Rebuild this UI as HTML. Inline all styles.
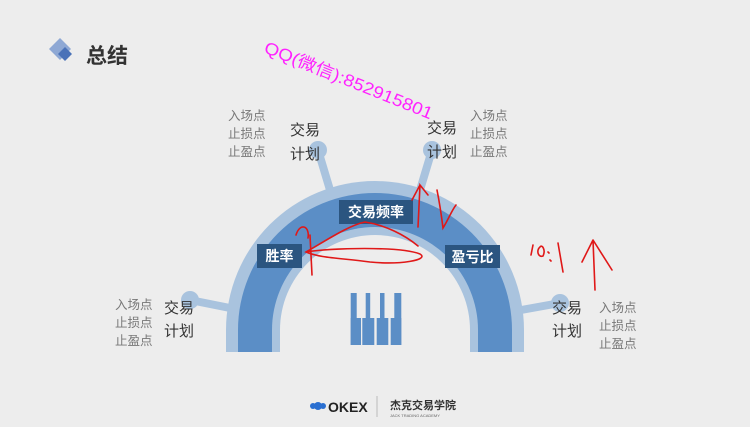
<!DOCTYPE html>
<html><head><meta charset="utf-8"><style>
body{margin:0;width:750px;height:422px;overflow:hidden;background:#ededed;font-family:"Liberation Sans","Noto Sans CJK SC",sans-serif}
</style></head><body>
<svg width="750" height="422" viewBox="0 0 750 422" xmlns="http://www.w3.org/2000/svg" font-family="Liberation Sans, Noto Sans CJK SC, sans-serif">
<rect width="750" height="422" fill="#ededed"/>
<!-- title icon -->
<polygon points="60,38 71,49 60,60 49,49" fill="#8ea8d4"/>
<polygon points="66,44 73,51 66,58 59,51" fill="#4a72b8" transform="translate(-1,3) scale(1)"/>
<text x="86" y="63" font-size="21" font-weight="bold" fill="#333">总结</text>
<!-- spokes -->
<g stroke="#a9c3de" stroke-width="8" fill="none">
<line x1="190" y1="300" x2="240" y2="310"/>
<line x1="318" y1="150" x2="330" y2="190"/>
<line x1="432" y1="150" x2="420" y2="190"/>
<line x1="560" y1="303" x2="510" y2="312"/>
</g>
<g fill="#a9c3de">
<circle cx="190" cy="300" r="9"/><circle cx="318" cy="150" r="9"/>
<circle cx="432" cy="150" r="9"/><circle cx="560" cy="303" r="9"/>
</g>
<!-- arch -->
<path d="M226,352 L226,330 A149,149 0 0 1 524,330 L524,352 Z" fill="#a9c3de"/>
<path d="M238,352 L238,330 A137,137 0 0 1 512,330 L512,352 Z" fill="#5b8ec6"/>
<path d="M272,352 L272,330 A103,103 0 0 1 478,330 L478,352 Z" fill="#a9c3de"/>
<path d="M280,353 L280,330 A95,95 0 0 1 470,330 L470,353 Z" fill="#ededed"/>
<!-- piano -->
<g fill="#5b8ec6">
<rect x="350.7" y="293" width="6" height="52"/><rect x="365.7" y="293" width="4.5" height="52"/>
<rect x="380" y="293" width="4.5" height="52"/><rect x="394.3" y="293" width="7" height="52"/>
<rect x="350.7" y="318" width="10.3" height="27"/><rect x="362.3" y="318" width="12" height="27"/>
<rect x="376.7" y="318" width="11.6" height="27"/><rect x="390.7" y="318" width="10.6" height="27"/>
</g>
<!-- label boxes -->
<g fill="#2b5580">
<rect x="257" y="244" width="45" height="24"/>
<rect x="339" y="200" width="74" height="24"/>
<rect x="445" y="245" width="55" height="23"/>
</g>
<g fill="#fff" font-size="14" font-weight="bold" text-anchor="middle">
<text x="279.5" y="261">胜率</text><text x="376" y="217">交易频率</text><text x="472.5" y="262">盈亏比</text>
</g>
<!-- side texts -->
<g font-size="15" fill="#333">
<text x="290" y="135">交易</text><text x="290" y="159">计划</text>
<text x="427" y="133">交易</text><text x="427" y="157">计划</text>
<text x="164" y="313">交易</text><text x="164" y="336">计划</text>
<text x="552" y="313">交易</text><text x="552" y="336">计划</text>
</g>
<g font-size="12.5" fill="#777">
<text x="228" y="120">入场点</text><text x="228" y="138">止损点</text><text x="228" y="156">止盈点</text>
<text x="470" y="120">入场点</text><text x="470" y="138">止损点</text><text x="470" y="156">止盈点</text>
<text x="115" y="309">入场点</text><text x="115" y="327">止损点</text><text x="115" y="345">止盈点</text>
<text x="599" y="312">入场点</text><text x="599" y="330">止损点</text><text x="599" y="348">止盈点</text>
</g>
<!-- watermark -->
<text x="263" y="52" font-size="17" fill="#ff22ff" textLength="180" lengthAdjust="spacingAndGlyphs" transform="rotate(22 263 52)">QQ(微信):852915801</text>
<!-- red annotations -->
<g stroke="#e01818" stroke-width="1.6" fill="none" stroke-linecap="round">
<path d="M312,275 L310,235 M296,235 C300,222 310,226 308,238"/>
<path d="M306,252 C330,248 400,246 420,254 C430,260 400,265 370,262 C340,258 320,258 306,252 C330,238 350,225 365,222 C385,225 405,235 418,246"/>
<path d="M418,227 L420,185 L428,195 M420,185 L412,200"/>
<path d="M437,190 C440,205 442,220 443,228 C448,220 452,210 456,205"/>
<path d="M531,255 L533,245 M540,247 C536,250 538,258 543,256 C546,250 542,244 540,247 M548,252 L549,253 M550,260 L551,261 M558,243 L563,272"/>
<path d="M595,290 L593,240 L582,262 M593,240 L612,270"/>
</g>
<!-- footer -->
<circle cx="318" cy="406" r="4" fill="#2a6fd1"/><circle cx="313" cy="406" r="3" fill="#2a6fd1"/><circle cx="323" cy="406" r="3" fill="#2a6fd1"/>
<text x="328" y="412" font-size="14" font-weight="bold" fill="#222">OKEX</text>
<line x1="377" y1="396" x2="377" y2="417" stroke="#bbb"/>
<text x="390" y="409" font-size="11" font-weight="bold" fill="#333">杰克交易学院</text>
<text x="390" y="417" font-size="4" fill="#666">JACK TRADING ACADEMY</text>
</svg>
</body></html>
